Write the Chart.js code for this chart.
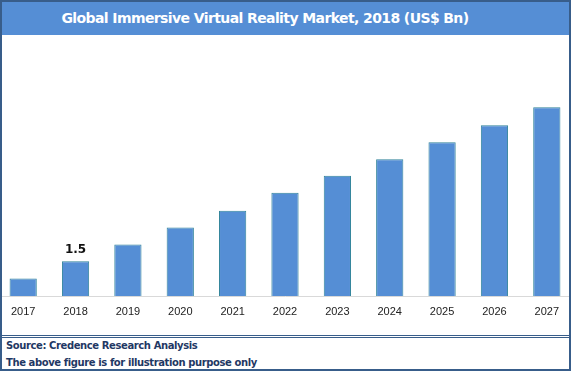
<!DOCTYPE html>
<html>
<head>
<meta charset="utf-8">
<script src="https://cdn.jsdelivr.net/npm/chart.js@4"></script>
<style>
  body { margin: 0; background: #fff; }
  #frame {
    position: relative; width: 571px; height: 371px; box-sizing: border-box;
    border: 2px solid #385D8A; overflow: hidden; background: #fff;
  }
  #title {
    position: absolute; left: 0; top: 0; width: 526px; height: 33px;
    background: #558ED5; color: #fff; text-align: center;
    font: bold 14px "DejaVu Sans", sans-serif; line-height: 33px;
    letter-spacing: -0.6px; padding-right: 41px;
  }
  #plot { position: absolute; left: -5px; top: 33px; width: 576px; height: 300px; }
  #rule {
    position: absolute; left: 0; right: 0; top: 333px; height: 1px;
    border-top: 1px solid #385D8A; border-bottom: 1px solid #385D8A;
  }
  .note {
    position: absolute; left: 4px; color: #1F3864;
    font: bold 10px "DejaVu Sans", sans-serif; letter-spacing: -0.4px;
  }
</style>
</head>
<body>
<div id="frame">
  <div id="title">Global Immersive Virtual Reality Market, 2018 (US$ Bn)</div>
  <div id="plot"><canvas id="vrChart"></canvas></div>
  <div id="rule"></div>
  <div class="note" style="top:338px">Source: Credence Research Analysis</div>
  <div class="note" style="top:355px">The above figure is for illustration purpose only</div>
</div>
<script>
const years = ['2017', '2018', '2019', '2020', '2021', '2022', '2023', '2024', '2025', '2026', '2027']
const marketSize = [0.76, 1.5, 2.22, 2.96, 3.68, 4.45, 5.19, 5.9, 6.63, 7.37, 8.14]
const shownLabels = ['', '1.5', '', '', '', '', '', '', '', '', '']

// only 2018 carries a value label
const valueLabels = {
  id: 'valueLabels',
  afterDatasetsDraw(chart) {
    const c = chart.ctx
    const bars = chart.getDatasetMeta(0).data
    c.save()
    c.font = 'bold 12px "DejaVu Sans", sans-serif'
    c.fillStyle = '#111'
    c.textAlign = 'center'
    c.textBaseline = 'bottom'
    bars.forEach((bar, i) => {
      if (shownLabels[i]) c.fillText(shownLabels[i], bar.x, bar.y - 5)
    })
    c.restore()
  },
}

const ctx = document.getElementById('vrChart').getContext('2d')

new Chart(ctx, {
  type: 'bar',
  data: {
    labels: years,
    datasets: [
      {
        data: marketSize,
        backgroundColor: '#558ED5',
        borderColor: '#31849B',
        borderWidth: 1,
        borderSkipped: 'bottom',
        categoryPercentage: 1,
        barPercentage: 0.52,
      },
    ],
  },
  options: {
    responsive: true,
    maintainAspectRatio: false,
    animation: false,
    layout: { padding: { top: 6, left: 0, right: 0, bottom: 0 } },
    plugins: { legend: { display: false }, tooltip: { enabled: false } },
    scales: {
      x: {
        grid: { display: false, drawTicks: false },
        border: { display: true, color: '#D9D9D9', width: 1 },
        ticks: {
          color: '#222',
          padding: 9,
          font: { family: '"Liberation Sans", sans-serif', size: 11 },
        },
        afterFit: (s) => { s.height = 39 },
      },
      y: { display: false, min: 0, max: 11 },
    },
  },
  plugins: [valueLabels],
})
</script>
</body>
</html>
